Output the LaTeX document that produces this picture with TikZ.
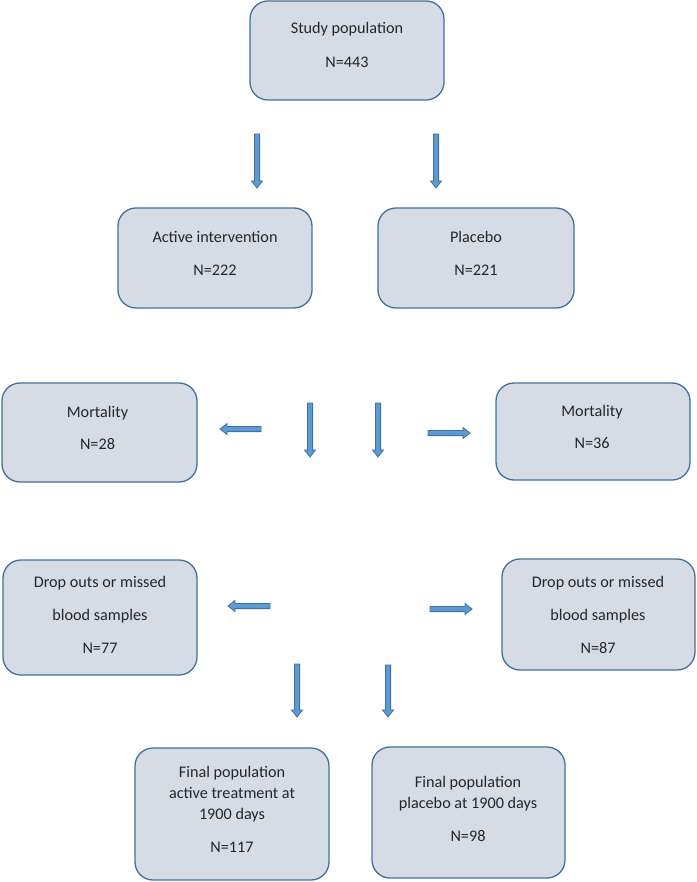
\documentclass[tikz,border=0pt]{standalone}
\usepackage{fontspec}
\setmainfont{Carlito}
\usetikzlibrary{calc}
\definecolor{boxfill}{HTML}{D6DCE5}
\definecolor{boxline}{HTML}{41719C}
\definecolor{arrfill}{HTML}{5B9BD5}
\tikzset{
  box/.style={draw=boxline, fill=boxfill, line width=1.3pt, rounded corners=18pt,
    rectangle, inner sep=0pt},
  txt/.style={align=center, inner sep=0pt, font=\fontsize{16.2pt}{21pt}\selectfont, text=black!85},
  blockarrow/.style={to path={
    ($(\tikztostart)!2.6pt!90:(\tikztotarget)$) --
    ($($(\tikztotarget)!7pt!(\tikztostart)$)!2.6pt!90:(\tikztotarget)$) --
    ($($(\tikztotarget)!7pt!(\tikztostart)$)!5.5pt!90:(\tikztotarget)$) --
    (\tikztotarget) --
    ($($(\tikztotarget)!7pt!(\tikztostart)$)!5.5pt!-90:(\tikztotarget)$) --
    ($($(\tikztotarget)!7pt!(\tikztostart)$)!2.6pt!-90:(\tikztotarget)$) --
    ($(\tikztostart)!2.6pt!-90:(\tikztotarget)$) -- cycle}},
  barrow/.style={draw=boxline, fill=arrfill, line width=0.8pt, line join=miter}
}
\begin{document}
\begin{tikzpicture}[x=1pt,y=-1pt]
\useasboundingbox (0,0) rectangle (696,882);
% boxes
\node[box, minimum width=194pt, minimum height=99pt] (s) at (347,50.5) {};
\node[txt] (st) at (347,45) {Study population\\[13pt]N=443};
\node[box, minimum width=194pt, minimum height=100pt] (act) at (215,258) {};
\node[txt] (actt) at (215,253.5) {Active intervention\\[12pt]N=222};
\node[box, minimum width=196pt, minimum height=100pt] (plc) at (476,258) {};
\node[txt] (plct) at (476,253.5) {Placebo\\[12pt]N=221};
\node[box, minimum width=195pt, minimum height=99pt] (ml) at (99.5,432.5) {};
\node[txt] (mlt) at (97.5,428) {Mortality\\[11pt]N=28};
\node[box, minimum width=194pt, minimum height=97pt] (mr) at (593,431.5) {};
\node[txt] (mrt) at (592,427) {Mortality\\[11pt]N=36};
\node[box, minimum width=194pt, minimum height=115pt] (dl) at (100,617.5) {};
\node[txt] (dlt) at (100,615) {Drop outs or missed\\[12pt]blood samples\\[12pt]N=77};
\node[box, minimum width=193pt, minimum height=111pt] (dr) at (598.5,614.5) {};
\node[txt] (drt) at (598,614.5) {Drop outs or missed\\[12pt]blood samples\\[12pt]N=87};
\node[box, minimum width=194pt, minimum height=132pt] (fa) at (232,814) {};
\node[txt] (fat) at (232,809.5) {Final population\\active treatment at\\1900 days\\[12pt]N=117};
\node[box, minimum width=193pt, minimum height=131pt] (fp) at (468.5,812.5) {};
\node[txt] (fpt) at (468,808.5) {Final population\\placebo at 1900 days\\[12pt]N=98};
% arrow end points
\coordinate (a1s) at (257,134); \coordinate (a1e) at (257,188);
\coordinate (a2s) at (436,134); \coordinate (a2e) at (436,188);
\coordinate (a3s) at (261,429); \coordinate (a3e) at (220,429);
\coordinate (a4s) at (310,403); \coordinate (a4e) at (310,457);
\coordinate (a5s) at (378,403); \coordinate (a5e) at (378,457);
\coordinate (a6s) at (428,433); \coordinate (a6e) at (470,433);
\coordinate (a7s) at (270,606); \coordinate (a7e) at (228,606);
\coordinate (a8s) at (430,609); \coordinate (a8e) at (472,609);
\coordinate (a9s) at (297,664); \coordinate (a9e) at (297,717);
\coordinate (a10s) at (388,665); \coordinate (a10e) at (388,717);
% block arrows
\foreach \i in {1,...,10}{
  \path[barrow] (a\i s) to[blockarrow] (a\i e);
}
\end{tikzpicture}
\end{document}
